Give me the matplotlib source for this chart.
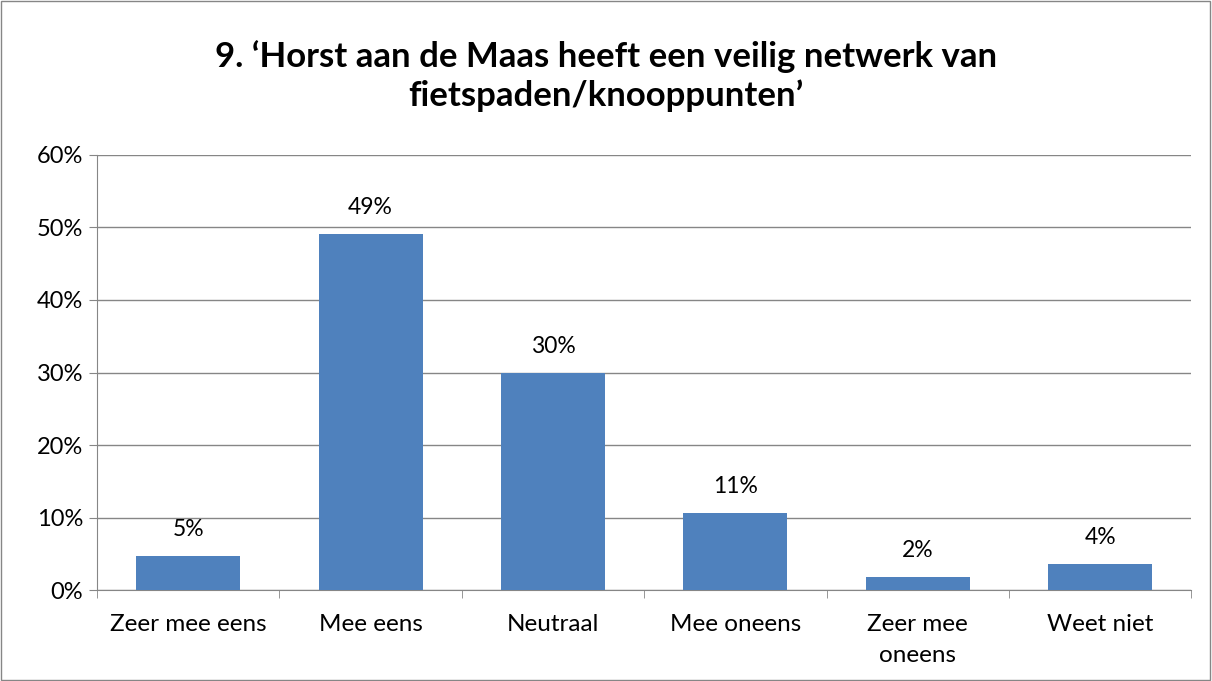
import matplotlib.pyplot as plt
from matplotlib.ticker import FixedLocator, NullFormatter
import numpy as np

plt.rcParams["font.family"] = ["Lato", "DejaVu Sans"]

# Survey answers for question 9
categories = ["Zeer mee eens", "Mee eens", "Neutraal", "Mee oneens", "Zeer mee\noneens", "Weet niet"]
shares = [4.7, 49.1, 30.0, 10.6, 1.8, 3.7]
labels = ["5%", "49%", "30%", "11%", "2%", "4%"]
title = "9. \u2018Horst aan de Maas heeft een veilig netwerk van\nfietspaden/knooppunten\u2019"

fig = plt.figure(figsize=(12.12, 6.81), dpi=100)
ax = fig.add_axes([0.080, 0.133, 0.903, 0.640])

x = np.arange(len(categories))
bars = ax.bar(x, shares, width=0.57, color="#4F81BD", zorder=3)

for rect, lab in zip(bars, labels):
    ax.text(rect.get_x() + rect.get_width() / 2, rect.get_height() + 2.2, lab,
            ha="center", va="bottom", fontsize=16.5)

ax.set_xlim(-0.5, len(categories) - 0.5)
ax.set_ylim(0, 60)
ax.set_yticks(np.arange(0, 61, 10))
ax.set_yticklabels([f"{v}%" for v in range(0, 61, 10)], fontsize=17)
ax.yaxis.grid(True, color="#868686", linewidth=1, zorder=0)

ax.set_xticks(x)
ax.set_xticklabels(categories, fontsize=17.5, linespacing=1.6, va="top")
ax.tick_params(axis="x", which="major", length=0, pad=17)
ax.xaxis.set_minor_locator(FixedLocator(np.arange(-0.5, len(categories), 1)))
ax.xaxis.set_minor_formatter(NullFormatter())
ax.tick_params(axis="x", which="minor", length=6, color="#868686")
ax.tick_params(axis="y", length=6, color="#868686", pad=4)

for side in ("top", "right"):
    ax.spines[side].set_visible(False)
for side in ("left", "bottom"):
    ax.spines[side].set_color("#868686")

fig.text(0.5, 0.888, title, ha="center", va="center", fontsize=25,
         fontweight="bold", linespacing=1.25)

# thin frame around the chart area
fig.patches.append(plt.Rectangle((0.001, 0.001), 0.997, 0.997, transform=fig.transFigure,
                                 fill=False, edgecolor="#868686", linewidth=1))

fig.savefig("out.png", dpi=100)
